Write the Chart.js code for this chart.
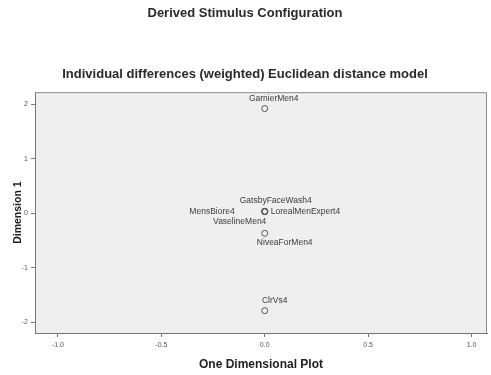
<!DOCTYPE html>
<html>
<head>
<meta charset="utf-8">
<script src="https://cdn.jsdelivr.net/npm/chart.js@4/dist/chart.umd.min.js"></script>
<style>
html,body{margin:0;padding:0;background:#fff;}
#wrap{width:491px;height:375px;}
</style>
</head>
<body>
<div id="wrap"><canvas id="c" width="491" height="375"></canvas></div>
<script>
// ---- data ----
const stimulusNames = ["GarnierMen4","GatsbyFaceWash4","MensBiore4","LorealMenExpert4","VaselineMen4","NiveaForMen4","ClrVs4"];
const oneDimValues  = [0.00, 0.00, 0.00, 0.00, 0.00, 0.00, 0.00];
const dimension1Values = [1.92, 0.03, 0.03, 0.03, 0.03, -0.37, -1.79];
const xTickValues = [-1.0, -0.5, 0.0, 0.5, 1.0];
const yTickValues = [-2, -1, 0, 1, 2];

// ---- label placement (style only) ----
const labelStyle = [
  {dx: 9,  dy: -10, align: 'center'},
  {dx: 11, dy: -11, align: 'center'},
  {dx: -30, dy: 0, align: 'right'},
  {dx: 6,  dy: 0,  align: 'left'},
  {dx: -25, dy: 10, align: 'center'},
  {dx: 20, dy: 9,  align: 'center'},
  {dx: 10, dy: -10, align: 'center'}
];

const points = oneDimValues.map((x, i) => ({x: x, y: dimension1Values[i]}));

const bgPlugin = {
  id: 'plotBg',
  beforeDraw(chart) {
    const {ctx, chartArea: a} = chart;
    ctx.save();
    ctx.fillStyle = '#efefef';
    ctx.fillRect(a.left, a.top, a.right - a.left, a.bottom - a.top);
    ctx.restore();
  },
  afterDraw(chart) {
    const {ctx, chartArea: a} = chart;
    ctx.save();
    ctx.strokeStyle = '#8a8a8a';
    ctx.lineWidth = 1;
    ctx.beginPath();
    ctx.moveTo(a.left, a.top + 0.5);
    ctx.lineTo(a.right - 0.5, a.top + 0.5);
    ctx.lineTo(a.right - 0.5, a.bottom);
    ctx.stroke();
    ctx.restore();
  }
};

const labelPlugin = {
  id: 'pointLabels',
  afterDatasetsDraw(chart) {
    const {ctx} = chart;
    const xs = chart.scales.x, ys = chart.scales.y;
    ctx.save();
    ctx.font = '8.5px "Liberation Sans", Arial, sans-serif';
    ctx.fillStyle = '#3a3a3a';
    ctx.textBaseline = 'middle';
    stimulusNames.forEach((name, i) => {
      const px = xs.getPixelForValue(oneDimValues[i]);
      const py = ys.getPixelForValue(dimension1Values[i]);
      const st = labelStyle[i];
      ctx.textAlign = st.align;
      ctx.fillText(name, px + st.dx, py + st.dy);
    });
    ctx.restore();
  }
};

new Chart(document.getElementById('c'), {
  type: 'scatter',
  data: {
    datasets: [{
      data: points,
      pointStyle: 'circle',
      pointRadius: 3,
      pointHoverRadius: 3,
      borderColor: '#555',
      borderWidth: 1,
      backgroundColor: 'rgba(0,0,0,0)'
    }]
  },
  options: {
    responsive: false,
    animation: false,
    devicePixelRatio: 1,
    layout: {padding: {left: 0, right: 1, top: 0, bottom: 0}},
    plugins: {
      legend: {display: false},
      tooltip: {enabled: false},
      title: {
        display: true,
        text: 'Derived Stimulus Configuration',
        color: '#2a2a2a',
        font: {family: '"Liberation Sans", Arial, sans-serif', size: 13, weight: 'bold'},
        padding: {top: 6, bottom: 45}
      },
      subtitle: {
        display: true,
        text: 'Individual differences (weighted) Euclidean distance model',
        color: '#2a2a2a',
        font: {family: '"Liberation Sans", Arial, sans-serif', size: 13, weight: 'bold'},
        padding: {top: 0, bottom: 10}
      }
    },
    scales: {
      x: {
        type: 'linear',
        min: -1.111,
        max: 1.075,
        afterFit(scale) { scale.height = 42; scale.paddingLeft = 0; scale.paddingRight = 0; },
        afterBuildTicks(scale) { scale.ticks = xTickValues.map(v => ({value: v})); },
        ticks: {
          color: '#555',
          font: {family: '"Liberation Sans", Arial, sans-serif', size: 7},
          padding: 4,
          maxRotation: 0,
          callback: v => Number(v).toFixed(1)
        },
        grid: {drawOnChartArea: false, drawTicks: true, tickLength: 4, color: '#777'},
        border: {display: true, color: '#777', width: 1},
        title: {
          display: true,
          text: 'One Dimensional Plot',
          color: '#222',
          font: {family: '"Liberation Sans", Arial, sans-serif', size: 12, weight: 'bold'},
          padding: {top: 0, bottom: 3}
        }
      },
      y: {
        type: 'linear',
        min: -2.2,
        max: 2.22,
        afterFit(scale) { scale.width = 35; },
        afterBuildTicks(scale) { scale.ticks = yTickValues.map(v => ({value: v})); },
        ticks: {
          color: '#555',
          font: {family: '"Liberation Sans", Arial, sans-serif', size: 7},
          padding: 3,
          callback: v => String(v)
        },
        grid: {drawOnChartArea: false, drawTicks: true, tickLength: 4, color: '#777'},
        border: {display: true, color: '#777', width: 1},
        title: {
          display: true,
          text: 'Dimension 1',
          color: '#222',
          font: {family: '"Liberation Sans", Arial, sans-serif', size: 10.5, weight: 'bold'},
          padding: {top: 12, bottom: 0}
        }
      }
    }
  },
  plugins: [bgPlugin, labelPlugin]
});
</script>
</body>
</html>
